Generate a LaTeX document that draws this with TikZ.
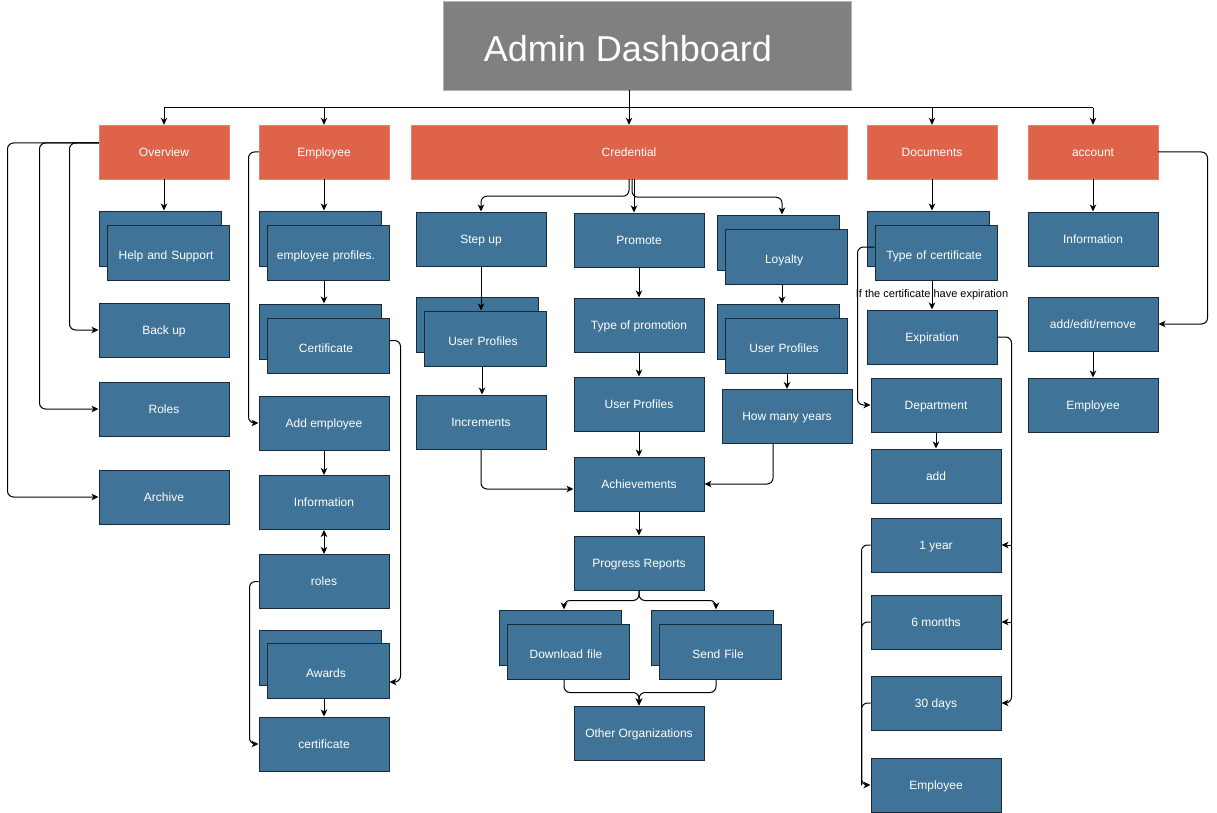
\documentclass[tikz,border=0pt]{standalone}
\usepackage{fontspec}
\setmainfont{Liberation Sans}
\usetikzlibrary{arrows.meta,calc}
\definecolor{bluebox}{RGB}{63,115,151}
\definecolor{orangebox}{RGB}{222,99,73}
\definecolor{bordblue}{RGB}{25,42,58}
\definecolor{titlegray}{RGB}{128,128,128}
\begin{document}
\begin{tikzpicture}[x=1pt,y=-1pt,
  bx/.style={draw=bordblue, fill=bluebox, line width=1pt, text=white, font=\fontsize{12}{14}\selectfont, minimum width=130pt, minimum height=54pt, inner sep=0pt, align=center, text height=8.5pt, text depth=0pt},
  sb/.style={bx, minimum width=122pt, minimum height=55pt},
  sf/.style={sb, text width=122pt, text height=13.5pt, execute at begin node={\hspace*{-4pt}}},
  hd/.style={fill=orangebox, draw=orangebox!80!white, text=white, font=\fontsize{12}{14}\selectfont, minimum width=130pt, minimum height=54pt, inner sep=0pt, text height=8.5pt, text depth=0pt},
  arr/.style={-{Stealth[length=7pt,width=6.5pt,inset=2pt]}, line width=1pt, rounded corners=6pt},
  darr/.style={{Stealth[length=7pt,width=6.5pt,inset=2pt]}-{Stealth[length=7pt,width=6.5pt,inset=2pt]}, line width=1pt},
  ln/.style={line width=1pt, rounded corners=6pt}]
\fill[white] (0,0) rectangle (1217,813);
\useasboundingbox (0,0) rectangle (1217,813);

% title
\node[fill=titlegray, draw=gray!60, minimum width=408pt, minimum height=89pt, inner sep=0pt] (title) at (647,45.5) {};
\node[text=white, font=\fontsize{36}{40}\selectfont, inner sep=0pt] (titletxt) at (628,49) {Admin Dashboard};

% headers
\node[hd] (ov) at (164,152) {Overview};
\node[hd] (emp) at (324,152) {Employee};
\node[hd, minimum width=436pt] (cred) at (629,152) {Credential};
\node[hd] (doc) at (932,152) {Documents};
\node[hd] (acc) at (1093,152) {account};

% overview column
\node[sb] (helpB) at (160,238.5) {};
\node[sf] (helpF) at (168,252.5) {Help and Support};
\node[bx] (backup) at (164,330) {Back up};
\node[bx] (roles) at (164,409) {Roles};
\node[bx] (archive) at (164,497) {Archive};

% employee column
\node[sb] (profB) at (320,238.5) {};
\node[sf] (profF) at (328,252.5) {employee profiles.};
\node[sb] (certB) at (320,331.5) {};
\node[sf] (certF) at (328,345.5) {Certificate};
\node[bx] (addemp) at (324,423) {Add employee};
\node[bx] (info) at (324,502.5) {Information};
\node[bx] (roles2) at (324,581.5) {roles};
\node[sb] (awB) at (320,657.5) {};
\node[sf] (awF) at (328,670.5) {Awards};
\node[bx] (certif) at (324,744) {certificate};

% credential column
\node[bx] (stepup) at (481,239) {Step up};
\node[sb] (spB) at (477,324.5) {};
\node[sf] (spF) at (485,338.5) {User Profiles};
\node[bx] (incr) at (481,422) {Increments};
\node[bx] (promote) at (639,240) {Promote};
\node[bx] (typeprom) at (639,325) {Type of promotion};
\node[bx] (upprom) at (639,404) {User Profiles};
\node[bx] (achv) at (639,484) {Achievements};
\node[sb] (loyB) at (778,242.5) {};
\node[sf] (loyF) at (786,256.5) {Loyalty};
\node[sb] (luB) at (778,331.5) {};
\node[sf] (luF) at (786,345.5) {User Profiles};
\node[bx] (howmany) at (787,416.5) {How many years};
\node[bx] (progress) at (639,563) {Progress Reports};
\node[sb] (dlB) at (560,637.5) {};
\node[sf] (dlF) at (568,651.5) {Download file};
\node[sb] (sfB) at (712,637.5) {};
\node[sf] (sfF) at (720,651.5) {Send File};
\node[bx] (other) at (639,733) {Other Organizations};

% documents column
\node[sb] (tcB) at (928,238.5) {};
\node[sf] (tcF) at (936,252.5) {Type of certificate};
\node[bx] (expir) at (932,337) {Expiration};
\node[bx] (dept) at (936,405) {Department};
\node[bx] (add) at (936,476) {add};
\node[bx] (y1) at (936,545) {1 year};
\node[bx] (m6) at (936,622) {6 months};
\node[bx] (d30) at (936,703) {30 days};
\node[bx] (demp) at (936,785) {Employee};

% account column
\node[bx] (ainfo) at (1093,239) {Information};
\node[bx] (aedit) at (1093,324) {add/edit/remove};
\node[bx] (aemp) at (1093,405) {Employee};

% top bus
\coordinate (bus) at (629,108);
\draw[ln] (bus -| ov.north) -- (bus -| acc.north);
\draw[arr] (title.south -| cred.north) -- (cred.north);
\foreach \n in {ov,emp,doc,acc} \draw[arr] (bus -| \n.north) -- (\n.north);

% overview connectors
\draw[arr] (ov.south) -- (ov.south |- helpB.north);
\draw[arr] ([yshift=9pt]ov.west) -| ([xshift=-29pt]backup.west) -- (backup.west);
\draw[arr] ([yshift=9pt]ov.west) -| ([xshift=-59pt]roles.west) -- (roles.west);
\draw[arr] ([yshift=9pt]ov.west) -| ([xshift=-91pt]archive.west) -- (archive.west);

% employee connectors
\draw[arr] (emp.south) -- (emp.south |- profB.north);
\draw[arr] (emp.south |- profF.south) -- (emp.south |- certB.north);
\draw[arr] (emp.west) -| ([xshift=-10pt]addemp.west) -- (addemp.west);
\draw[arr] (addemp.south) -- (info.north);
\draw[darr] (info.south) -- (roles2.north);
\draw[arr] (roles2.west) -| ([xshift=-9pt]certif.west) -- (certif.west);
\draw[arr] (emp.south |- awF.south) -- (certif.north);
\draw[arr] ([yshift=5pt]certF.east) -| ([xshift=11pt,yshift=-11.5pt]awF.east) -- ([yshift=-11.5pt]awF.east);

% credential connectors
\draw[arr] (cred.south) -- ++(0,17) -| (stepup.north);
\draw[arr] ([xshift=5pt]cred.south) -- ([xshift=5pt]cred.south |- promote.north);
\draw[arr] ([xshift=3pt]cred.south) -- ++(0,18) -| ([xshift=4pt]loyB.north);
\draw[arr] (stepup.south) -- (stepup.south |- spF.north);
\draw[arr] ([xshift=1pt]incr.north |- spF.south) -- ([xshift=1pt]incr.north);
\draw[arr] (promote.south) -- (typeprom.north);
\draw[arr] (typeprom.south) -- (upprom.north);
\draw[arr] (upprom.south) -- (achv.north);
\draw[arr] ([xshift=4pt]loyB.south |- loyF.south) -- ([xshift=4pt]luB.north);
\draw[arr] (howmany.north |- luF.south) -- (howmany.north);
\draw[arr] (incr.south) |- ([yshift=-5pt]achv.west);
\draw[arr] ([xshift=-14pt]howmany.south) |- (achv.east);
\draw[arr] (achv.south) -- (progress.north);
\draw[arr] (progress.south) -- ++(0,10) -| ([xshift=4pt]dlB.north);
\draw[arr] (progress.south) -- ++(0,10) -| ([xshift=4pt]sfB.north);
\draw[arr] ([xshift=-4pt]dlF.south) -- ++(0,13) -| (other.north);
\draw[arr] ([xshift=-4pt]sfF.south) -- ++(0,13) -| (other.north);

% documents connectors
\draw[arr] (doc.south) -- (doc.south |- tcB.north);
\draw[arr] (doc.south |- tcF.south) -- (expir.north);
\node[font=\fontsize{11}{13}\selectfont, text=black, inner sep=0pt] (explbl) at (932,295) {If the certificate have expiration};
\draw[arr] ([yshift=5.5pt]tcF.west) -| ([xshift=-13pt]dept.west) -- (dept.west);
\draw[arr] (dept.south) -- (add.north);
\draw[arr] (expir.east) -| ([xshift=10pt]d30.east) -- (d30.east);
\draw[arr] ([xshift=10pt]y1.east) -- (y1.east);
\draw[arr] ([xshift=10pt]m6.east) -- (m6.east);
\draw[arr] (y1.west) -| ([xshift=-9pt]demp.west) -- (demp.west);
\draw[ln] (m6.west) -| ([xshift=-9pt]demp.west);
\draw[ln] (d30.west) -| ([xshift=-9pt]demp.west);

% account connectors
\draw[arr] (acc.south) -- (ainfo.north);
\draw[arr] (acc.east) -| ([xshift=49pt]aedit.east) -- (aedit.east);
\draw[arr] (aedit.south) -- (aemp.north);
\end{tikzpicture}
\end{document}
